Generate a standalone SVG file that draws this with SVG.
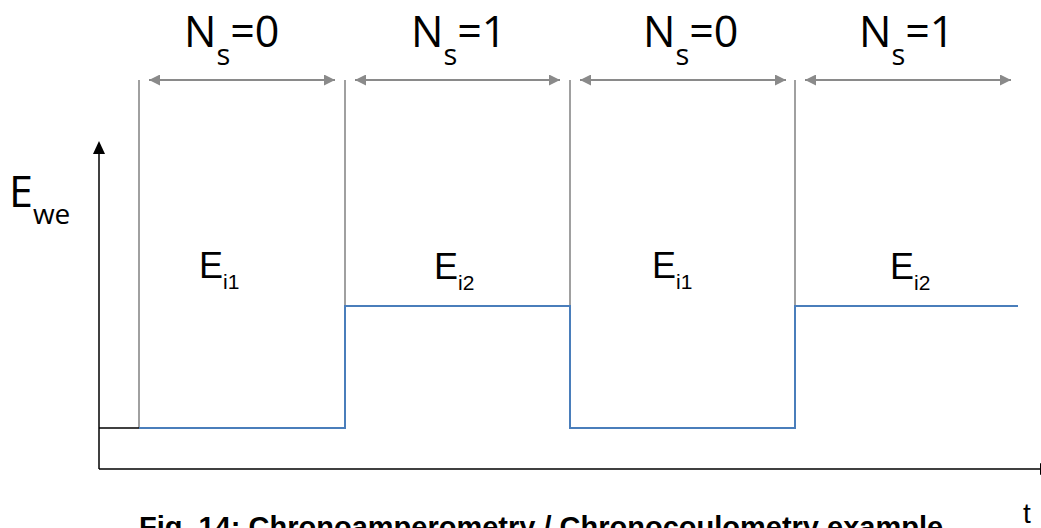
<svg xmlns="http://www.w3.org/2000/svg" width="1041" height="528" viewBox="0 0 1041 528">
<style>
.bg{fill:#ffffff}
.sep{stroke:#808080;stroke-width:1.5;fill:none}
.span{stroke:#8a8a8a;stroke-width:2;fill:none;marker-start:url(#ga);marker-end:url(#ga)}
.axis{stroke:#000000;stroke-width:1.5;fill:none}
.wave{stroke:#4a7ebb;stroke-width:2;fill:none}
.ns{font-family:"Open Sans","Liberation Sans",sans-serif;font-size:43px;fill:#000}
.ei{font-family:"Liberation Sans",Arial,sans-serif;font-size:36px;fill:#000}
.cap{font-family:"Liberation Sans",Arial,sans-serif;font-size:29px;font-weight:bold;fill:#000}
</style>
<defs>
<marker id="ga" markerUnits="userSpaceOnUse" markerWidth="11" markerHeight="11" refX="10" refY="5" orient="auto-start-reverse" viewBox="0 0 10 10">
<path d="M0,0 L10,5 L0,10 z" fill="#8a8a8a"/>
</marker>
</defs>
<rect class="bg" x="0" y="0" width="1041" height="528"/>
<g id="connectors">
<line class="sep" x1="139" y1="80" x2="139" y2="428"/>
<line class="sep" x1="345" y1="80" x2="345" y2="306"/>
<line class="sep" x1="570" y1="80" x2="570" y2="306"/>
<line class="sep" x1="795" y1="80" x2="795" y2="306"/>
<line class="span" x1="149" y1="80" x2="335" y2="80"/>
<line class="span" x1="355" y1="80" x2="560" y2="80"/>
<line class="span" x1="580" y1="80" x2="786" y2="80"/>
<line class="span" x1="805" y1="80" x2="1011" y2="80"/>
<line class="axis" x1="99" y1="469" x2="99" y2="150"/>
<polygon points="99,141 93,154 105,154" fill="#000"/>
<line class="axis" x1="99" y1="469" x2="1041" y2="469"/>
<polygon points="1040,463 1052,469 1040,475" fill="#000"/>
<line class="axis" x1="99" y1="428" x2="139" y2="428"/>
<polyline class="wave" points="139,428 345,428 345,306 570,306 570,428 795,428 795,306 1018,306"/>
</g>
<g id="ns1"><text class="ns" x="184" y="47">N<tspan font-size="29" dy="18">s</tspan><tspan dy="-18">=0</tspan></text></g>
<g id="ns2"><text class="ns" x="411" y="47">N<tspan font-size="29" dy="18">s</tspan><tspan dy="-18">=1</tspan></text></g>
<g id="ns3"><text class="ns" x="643" y="47">N<tspan font-size="29" dy="18">s</tspan><tspan dy="-18">=0</tspan></text></g>
<g id="ns4"><text class="ns" x="859" y="47">N<tspan font-size="29" dy="18">s</tspan><tspan dy="-18">=1</tspan></text></g>
<g id="ewe"><text class="ns" x="9" y="207" font-size="41">E<tspan font-size="28" dy="17">we</tspan></text></g>
<g id="e1"><text class="ei" x="199" y="278">E<tspan font-size="21" dy="11">i1</tspan></text></g>
<g id="e2"><text class="ei" x="434" y="279">E<tspan font-size="21" dy="11">i2</tspan></text></g>
<g id="e3"><text class="ei" x="652" y="278">E<tspan font-size="21" dy="11">i1</tspan></text></g>
<g id="e4"><text class="ei" x="890" y="279">E<tspan font-size="21" dy="11">i2</tspan></text></g>
<g id="tlabel"><text x="1023" y="523" font-family="'Liberation Sans',Arial,sans-serif" font-size="28">t</text></g>
<g id="caption"><text class="cap" x="139" y="537">Fig. 14: Chronoamperometry / Chronocoulometry example</text></g>
</svg>
